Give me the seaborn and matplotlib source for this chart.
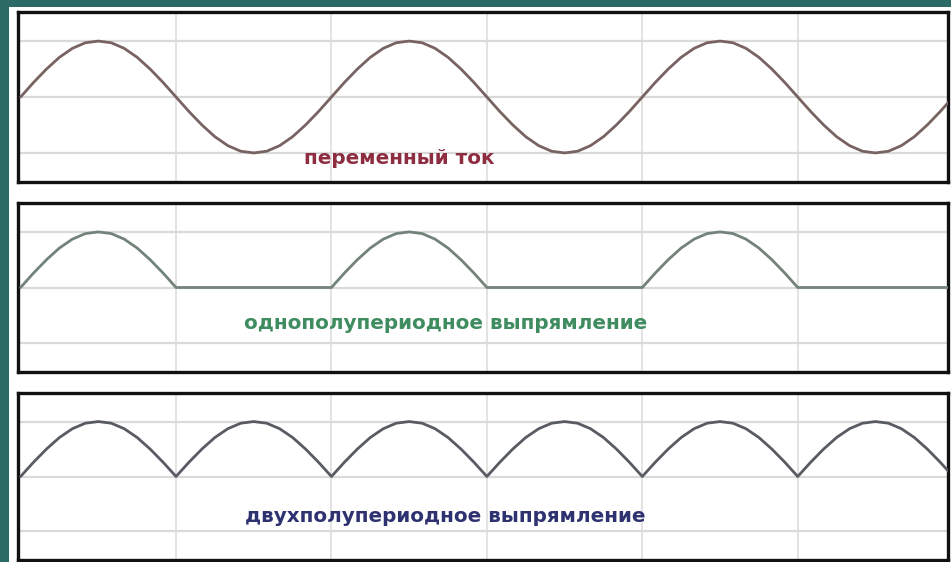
import matplotlib
matplotlib.use("Agg")
import matplotlib.pyplot as plt
import pandas as pd
import seaborn as sns
from matplotlib.patches import Rectangle

# ---- data ----
angle_deg = [0, 15, 30, 45, 60, 75, 90, 105, 120, 135, 150, 165,
             180, 195, 210, 225, 240, 255, 270, 285, 300, 315, 330, 345,
             360, 375, 390, 405, 420, 435, 450, 465, 480, 495, 510, 525,
             540, 555, 570, 585, 600, 615, 630, 645, 660, 675, 690, 705,
             720, 735, 750, 765, 780, 795, 810, 825, 840, 855, 870, 885,
             900, 915, 930, 945, 960, 975, 990, 1005, 1020, 1035, 1050, 1065,
             1080]

alternating_current = [0, 0.26, 0.50, 0.71, 0.87, 0.97, 1.00, 0.97, 0.87, 0.71, 0.50, 0.26,
                       0, -0.26, -0.50, -0.71, -0.87, -0.97, -1.00, -0.97, -0.87, -0.71, -0.50, -0.26,
                       0, 0.26, 0.50, 0.71, 0.87, 0.97, 1.00, 0.97, 0.87, 0.71, 0.50, 0.26,
                       0, -0.26, -0.50, -0.71, -0.87, -0.97, -1.00, -0.97, -0.87, -0.71, -0.50, -0.26,
                       0, 0.26, 0.50, 0.71, 0.87, 0.97, 1.00, 0.97, 0.87, 0.71, 0.50, 0.26,
                       0, -0.26, -0.50, -0.71, -0.87, -0.97, -1.00, -0.97, -0.87, -0.71, -0.50, -0.26,
                       0]

half_wave = [0, 0.26, 0.50, 0.71, 0.87, 0.97, 1.00, 0.97, 0.87, 0.71, 0.50, 0.26,
             0, 0, 0, 0, 0, 0, 0, 0, 0, 0, 0, 0,
             0, 0.26, 0.50, 0.71, 0.87, 0.97, 1.00, 0.97, 0.87, 0.71, 0.50, 0.26,
             0, 0, 0, 0, 0, 0, 0, 0, 0, 0, 0, 0,
             0, 0.26, 0.50, 0.71, 0.87, 0.97, 1.00, 0.97, 0.87, 0.71, 0.50, 0.26,
             0, 0, 0, 0, 0, 0, 0, 0, 0, 0, 0, 0,
             0]

full_wave = [0, 0.26, 0.50, 0.71, 0.87, 0.97, 1.00, 0.97, 0.87, 0.71, 0.50, 0.26,
             0, 0.26, 0.50, 0.71, 0.87, 0.97, 1.00, 0.97, 0.87, 0.71, 0.50, 0.26,
             0, 0.26, 0.50, 0.71, 0.87, 0.97, 1.00, 0.97, 0.87, 0.71, 0.50, 0.26,
             0, 0.26, 0.50, 0.71, 0.87, 0.97, 1.00, 0.97, 0.87, 0.71, 0.50, 0.26,
             0, 0.26, 0.50, 0.71, 0.87, 0.97, 1.00, 0.97, 0.87, 0.71, 0.50, 0.26,
             0, 0.26, 0.50, 0.71, 0.87, 0.97, 1.00, 0.97, 0.87, 0.71, 0.50, 0.26,
             0]

labels = ["переменный ток",
          "однополупериодное выпрямление",
          "двухполупериодное выпрямление"]

grid_x = [180, 360, 540, 720, 900]
grid_y = [-1, 0, 1]

# ---- styling ----
sns.set_style("white")
plt.rcParams['font.family'] = ['DejaVu Sans']

W, H = 951, 562
fig = plt.figure(figsize=(W / 100, H / 100), dpi=100)
fig.patch.set_facecolor("#2c6a66")
fig.patches.append(Rectangle((9 / W, 0), 1 - 9 / W, 1 - 7 / H,
                             transform=fig.transFigure, facecolor="white",
                             edgecolor="none", zorder=-10))

panels = [
    (alternating_current, labels[0], "#786262", "#8e2c40", (439, -1.10), (12, 182)),
    (half_wave, labels[1], "#74837a", "#3f8c60", (492, -0.65), (203, 372)),
    (full_wave, labels[2], "#585b62", "#2e3270", (492, -0.72), (393, 560)),
]

for values, label, lcolor, tcolor, (tx, ty), (top, bottom) in panels:
    left, right = 18, 948
    ax = fig.add_axes([left / W, 1 - bottom / H, (right - left) / W, (bottom - top) / H])
    ax.set_zorder(1)
    ax.set_facecolor("white")
    df = pd.DataFrame({"angle": angle_deg, "value": values})
    for gx in grid_x:
        ax.axvline(gx, color="#e0e0e0", lw=1.3, zorder=0)
    for gy in grid_y:
        ax.axhline(gy, color="#dadada", lw=1.6, zorder=0)
    sns.lineplot(data=df, x="angle", y="value", ax=ax, color=lcolor,
                 linewidth=2.0, zorder=3)
    ax.text(tx, ty, label, color=tcolor, fontsize=14.4, fontweight="bold",
            ha="center", va="center")
    ax.set_xlim(-3, 1074)
    ax.set_ylim(-1.52, 1.52)
    ax.set_xticks([])
    ax.set_yticks([])
    ax.set_xlabel("")
    ax.set_ylabel("")
    for sp in ax.spines.values():
        sp.set_visible(True)
        sp.set_color("#111111")
        sp.set_linewidth(2.4)

fig.savefig("out.png", dpi=100, facecolor=fig.get_facecolor())
